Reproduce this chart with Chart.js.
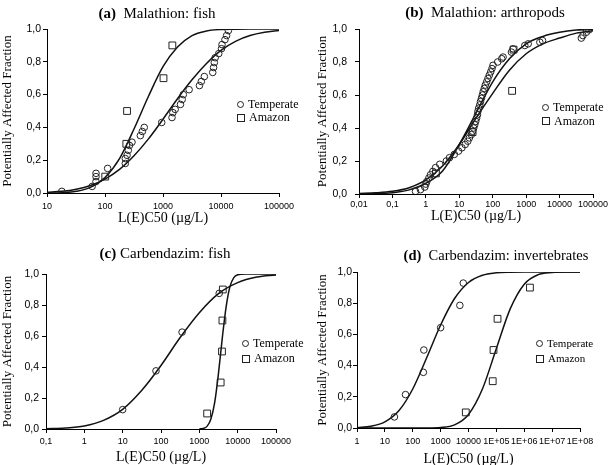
<!DOCTYPE html>
<html>
<head>
<meta charset="utf-8">
<script src="https://cdn.jsdelivr.net/npm/chart.js@4.4.1/dist/chart.umd.min.js"></script>
<style>
  html, body { margin: 0; padding: 0; width: 610px; height: 465px; overflow: hidden; background: #fff; }
  canvas { position: absolute; }
  .ttl { position: absolute; font-family: "Liberation Serif", serif; font-size: 15px; line-height: 16px; white-space: nowrap; transform: translateX(-50%); color: #000; }
  .lg { position: absolute; font-family: "Liberation Serif", serif; font-size: 12px; white-space: nowrap; color: #000; }
  .lg div { display: flex; align-items: center; }
  .mk-c { display: inline-block; width: 5px; height: 5px; border: 1px solid #222; border-radius: 50%; margin-right: 4px; }
  .mk-s { display: inline-block; width: 6px; height: 6px; border: 1px solid #222; margin-right: 4px; }
</style>
</head>
<body>
<canvas id="chartA" width="305" height="232" style="left:0;top:0"></canvas>
<canvas id="chartB" width="305" height="232" style="left:305px;top:0"></canvas>
<canvas id="chartC" width="305" height="236" style="left:0;top:232px"></canvas>
<canvas id="chartD" width="305" height="236" style="left:305px;top:232px"></canvas>

<div class="ttl" style="left:157px;top:5px"><b>(a)</b>&nbsp;&nbsp;Malathion: fish</div>
<div class="ttl" style="left:485px;top:4px"><b>(b)</b>&nbsp;&nbsp;Malathion: arthropods</div>
<div class="ttl" style="left:165px;top:245px"><b>(c)</b>&nbsp;Carbendazim: fish</div>
<div class="ttl" style="left:496px;top:247px;font-size:14.5px"><b>(d)</b>&nbsp;&nbsp;Carbendazim: invertebrates</div>

<div class="lg" style="left:237px;top:98px;line-height:13px"><div><span class="mk-c"></span>Temperate</div><div><span class="mk-s"></span>Amazon</div></div>
<div class="lg" style="left:542px;top:100px;line-height:14px"><div><span class="mk-c"></span>Temperate</div><div><span class="mk-s"></span>Amazon</div></div>
<div class="lg" style="left:242px;top:336px;line-height:15px"><div><span class="mk-c"></span>Temperate</div><div><span class="mk-s"></span>Amazon</div></div>
<div class="lg" style="left:536px;top:336px;line-height:15px;font-size:11px"><div><span class="mk-c"></span>Temperate</div><div><span class="mk-s"></span>Amazon</div></div>

<script>
// axe Y commun
const yTicks = [0, 0.2, 0.4, 0.6, 0.8, 1.0];
const yTickLabels = ['0,0', '0,2', '0,4', '0,6', '0,8', '1,0'];

// (a) Malathion: fish
const aTicks = [10, 100, 1000, 10000, 100000];
const aTickLabels = ['10', '100', '1000', '10000', '100000'];
const aTempX = [18, 60, 70, 70, 70, 111, 224, 224, 240, 252, 264, 292, 407, 440, 475, 950, 1430, 1480, 1620, 2000, 2140, 2240, 2820, 4250, 4580, 5160, 7200, 7450, 7670, 7930, 9150, 10200, 10400, 11700, 12500, 13400];
const aTempY = [0.01, 0.04, 0.07, 0.10, 0.12, 0.15, 0.18, 0.21, 0.23, 0.26, 0.29, 0.31, 0.35, 0.375, 0.40, 0.43, 0.46, 0.49, 0.51, 0.54, 0.57, 0.60, 0.63, 0.655, 0.68, 0.71, 0.735, 0.765, 0.795, 0.825, 0.85, 0.88, 0.905, 0.935, 0.96, 0.99];
const aAmazonX = [101, 233, 240, 1020, 1450];
const aAmazonY = [0.1, 0.3, 0.5, 0.7, 0.9];
const aFitX = [10, 18, 32, 56, 100, 178, 316, 562, 1000, 1778, 3162, 5623, 10000, 17783, 31623, 56234, 100000];
const aTempFit = [0.004, 0.010, 0.023, 0.046, 0.085, 0.144, 0.227, 0.33, 0.45, 0.575, 0.69, 0.79, 0.87, 0.925, 0.96, 0.98, 0.991];
const aAmazonFit = [0.0004, 0.002, 0.010, 0.034, 0.095, 0.21, 0.39, 0.59, 0.77, 0.89, 0.96, 0.988, 0.997, 0.999, 1, 1, 1];

// (b) Malathion: arthropods
const bTicks = [0.01, 0.1, 1, 10, 100, 1000, 10000, 100000];
const bTickLabels = ['0,01', '0,1', '1', '10', '100', '1000', '10000', '100000'];
const bTempX = [0.49, 0.69, 0.93, 1.0, 1.07, 1.23, 1.38, 1.62, 1.95, 2.6, 4.1, 5.1, 7.1, 9.5, 12, 15, 18, 20, 23, 25, 27, 29, 31, 33, 35, 36, 38, 41, 43, 46, 49, 52, 56, 60, 66, 72, 79, 87, 95, 102, 141, 186, 204, 363, 407, 912, 1150, 2570, 3090, 44700, 50000, 63000, 76000];
const bTempY = [0.016, 0.026, 0.042, 0.06, 0.076, 0.097, 0.117, 0.137, 0.16, 0.18, 0.20, 0.22, 0.24, 0.26, 0.28, 0.30, 0.32, 0.34, 0.36, 0.38, 0.40, 0.42, 0.44, 0.46, 0.48, 0.50, 0.52, 0.54, 0.56, 0.58, 0.60, 0.62, 0.64, 0.66, 0.68, 0.70, 0.72, 0.74, 0.76, 0.78, 0.80, 0.82, 0.83, 0.86, 0.88, 0.90, 0.91, 0.92, 0.93, 0.945, 0.96, 0.98, 0.995];
const bAmazonX = [2.0, 25, 380, 420];
const bAmazonY = [0.125, 0.375, 0.625, 0.875];
const bFitX = [0.01, 0.0316, 0.1, 0.316, 1, 3.16, 10, 31.6, 100, 316, 1000, 3162, 10000, 31623, 100000];
const bTempFit = [0.0005, 0.002, 0.008, 0.025, 0.065, 0.14, 0.30, 0.49, 0.68, 0.82, 0.91, 0.955, 0.98, 0.994, 0.999];
const bAmazonFit = [0.003, 0.007, 0.016, 0.038, 0.085, 0.17, 0.30, 0.46, 0.61, 0.75, 0.85, 0.91, 0.945, 0.975, 0.99];

// (c) Carbendazim: fish
const cTicks = [0.1, 1, 10, 100, 1000, 10000, 100000];
const cTickLabels = ['0,1', '1', '10', '100', '1000', '10000', '100000'];
const cTempX = [10, 74, 355, 3300];
const cTempY = [0.125, 0.375, 0.625, 0.875];
const cAmazonX = [1600, 3600, 3900, 4000, 4100];
const cAmazonY = [0.1, 0.3, 0.5, 0.7, 0.9];
const cTempFitX = [0.1, 0.316, 1, 3.16, 10, 31.6, 100, 316, 1000, 3162, 10000, 31623, 100000];
const cTempFit = [0.0016, 0.006, 0.020, 0.056, 0.127, 0.25, 0.41, 0.59, 0.75, 0.873, 0.944, 0.980, 0.994];
const cAmazonFitX = [1000, 1259, 1585, 1995, 2512, 3162, 3981, 5012, 6310, 7943, 10000, 15849, 100000];
const cAmazonFit = [0.0005, 0.0035, 0.017, 0.063, 0.17, 0.36, 0.59, 0.79, 0.92, 0.977, 0.995, 1, 1];

// (d) Carbendazim: invertebrates
const dTicks = [1, 10, 100, 1000, 10000, 1e5, 1e6, 1e7, 1e8];
const dTickLabels = ['1', '10', '100', '1000', '10000', '1E+05', '1E+06', '1E+07', '1E+08'];
const dTempX = [22, 55, 240, 250, 1000, 4900, 6500];
const dTempY = [0.071, 0.214, 0.357, 0.5, 0.643, 0.786, 0.929];
const dAmazonX = [8000, 74000, 79000, 110000, 1600000];
const dAmazonY = [0.1, 0.3, 0.5, 0.7, 0.9];
const dFitX = [1, 3.16, 10, 31.6, 100, 316, 1000, 3162, 1e4, 3.16e4, 1e5, 3.16e5, 1e6, 3.16e6, 1e7, 3.16e7, 1e8];
const dTempFit = [0.002, 0.011, 0.039, 0.11, 0.25, 0.45, 0.66, 0.83, 0.933, 0.979, 0.995, 0.999, 1, 1, 1, 1, 1];
const dAmazonFit = [0, 0, 0, 0, 0, 0.0002, 0.003, 0.02, 0.087, 0.25, 0.51, 0.765, 0.922, 0.983, 0.997, 1, 1];

const toXY = (xs, ys) => xs.map((x, i) => ({ x: x, y: ys[i] }));

function pointSet(xs, ys, style, r) {
  return {
    data: toXY(xs, ys),
    pointStyle: style,
    pointRadius: r,
    pointBorderColor: '#222',
    pointBackgroundColor: 'rgba(255,255,255,0)',
    pointBorderWidth: 1,
    showLine: false
  };
}

function lineSet(xs, ys) {
  return {
    type: 'line',
    data: toXY(xs, ys),
    borderColor: '#111',
    borderWidth: 1.5,
    pointRadius: 0,
    fill: false,
    cubicInterpolationMode: 'monotone'
  };
}

// construction d'un panneau
function buildPanel(id, p) {
  new Chart(document.getElementById(id), {
    type: 'scatter',
    data: {
      datasets: [
        pointSet(p.tempX, p.tempY, 'circle', 3.3),
        pointSet(p.amzX, p.amzY, 'rect', 4.8),
        lineSet(p.fit1X, p.fit1Y),
        lineSet(p.fit2X, p.fit2Y)
      ]
    },
    options: {
      responsive: false,
      animation: false,
      devicePixelRatio: 1,
      layout: { padding: p.padding },
      plugins: { legend: { display: false }, tooltip: { enabled: false } },
      scales: {
        x: {
          type: 'logarithmic',
          min: p.ticks[0],
          max: p.ticks[p.ticks.length - 1],
          afterBuildTicks: s => { s.ticks = p.ticks.map(v => ({ value: v })); },
          afterFit: s => { s.height = p.xH; },
          ticks: {
            callback: (v, i) => p.tickLabels[i],
            autoSkip: false, maxRotation: 0, minRotation: 0,
            font: { family: 'Liberation Sans', size: 9 }, color: '#000', padding: p.xPad
          },
          grid: { drawOnChartArea: false, tickLength: 4, color: '#000' },
          border: { color: '#000', width: 1 },
          title: {
            display: true, text: 'L(E)C50 (µg/L)', color: '#000',
            font: { family: 'Liberation Serif', size: 14 }, padding: { top: 0, bottom: 0 }
          }
        },
        y: {
          type: 'linear',
          min: 0, max: 1,
          afterBuildTicks: s => { s.ticks = yTicks.map(v => ({ value: v })); },
          afterFit: s => { s.width = p.yW; },
          ticks: {
            callback: (v, i) => yTickLabels[i],
            font: { family: 'Liberation Sans', size: 10.5 }, color: '#000', padding: p.yPad
          },
          grid: { drawOnChartArea: false, tickLength: 4, color: '#000' },
          border: { color: '#000', width: 1 },
          title: {
            display: true, text: 'Potentially Affected Fraction', color: '#000',
            font: { family: 'Liberation Serif', size: 13 }, padding: { top: p.yTitlePad, bottom: 0 }
          }
        }
      }
    }
  });
}

buildPanel('chartA', {
  ticks: aTicks, tickLabels: aTickLabels,
  tempX: aTempX, tempY: aTempY, amzX: aAmazonX, amzY: aAmazonY,
  fit1X: aFitX, fit1Y: aTempFit, fit2X: aFitX, fit2Y: aAmazonFit,
  padding: { left: 0, right: 26, top: 29, bottom: 5 }, xH: 34, yW: 47, xPad: 4, yPad: 2, yTitlePad: 0
});

buildPanel('chartB', {
  ticks: bTicks, tickLabels: bTickLabels,
  tempX: bTempX, tempY: bTempY, amzX: bAmazonX, amzY: bAmazonY,
  fit1X: bFitX, fit1Y: bTempFit, fit2X: bFitX, fit2Y: bAmazonFit,
  padding: { left: 0, right: 17, top: 29, bottom: 7 }, xH: 31, yW: 54, xPad: 1, yPad: 8, yTitlePad: 10
});

buildPanel('chartC', {
  ticks: cTicks, tickLabels: cTickLabels,
  tempX: cTempX, tempY: cTempY, amzX: cAmazonX, amzY: cAmazonY,
  fit1X: cTempFitX, fit1Y: cTempFit, fit2X: cAmazonFitX, fit2Y: cAmazonFit,
  padding: { left: 0, right: 29, top: 42, bottom: 2 }, xH: 37, yW: 46, xPad: 3, yPad: 3, yTitlePad: 0
});

buildPanel('chartD', {
  ticks: dTicks, tickLabels: dTickLabels,
  tempX: dTempX, tempY: dTempY, amzX: dAmazonX, amzY: dAmazonY,
  fit1X: dFitX, fit1Y: dTempFit, fit2X: dFitX, fit2Y: dAmazonFit,
  padding: { left: 0, right: 30, top: 40, bottom: 0 }, xH: 40, yW: 52, xPad: 4, yPad: 1, yTitlePad: 10
});
</script>
</body>
</html>
